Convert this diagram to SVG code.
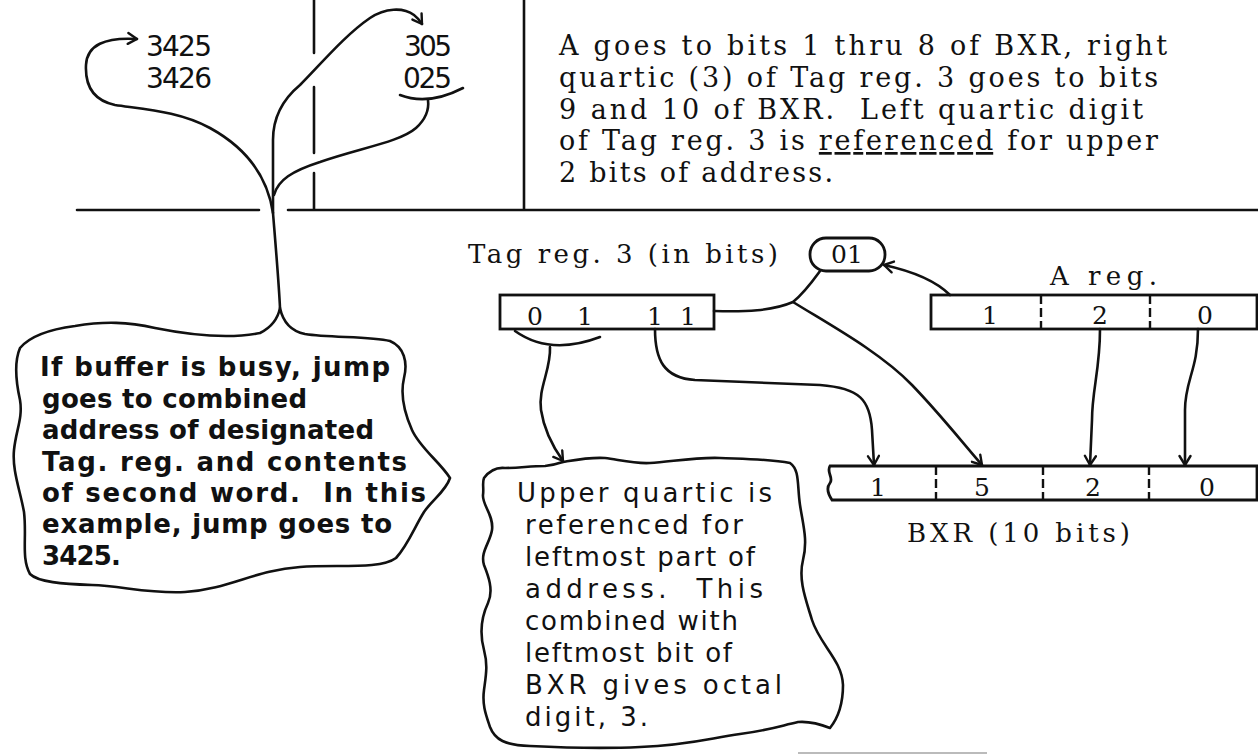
<svg xmlns="http://www.w3.org/2000/svg" width="1258" height="754" viewBox="0 0 1258 754">
<style>
.ln{fill:none;stroke:#111;stroke-width:2.6;stroke-linecap:round;stroke-linejoin:round}
.bx{fill:#fff;stroke:#111;stroke-width:2.8}
.dv{stroke:#111;stroke-width:2.4;stroke-dasharray:9 4}
.num{font-family:"DejaVu Sans",sans-serif;font-size:28px;fill:#111}
.par{font-family:"DejaVu Serif",serif;font-size:27px;fill:#111;white-space:pre}
.lab{font-family:"DejaVu Serif",serif;font-size:26px;fill:#111}
.dig{font-family:"DejaVu Serif",serif;font-size:25px;fill:#111;text-anchor:middle}
.b1{font-family:"DejaVu Sans",sans-serif;font-weight:bold;font-size:26px;fill:#111;white-space:pre}
.b2{font-family:"DejaVu Sans",sans-serif;font-size:26px;fill:#111;white-space:pre}
</style>
<defs>
<marker id="ar" markerWidth="14" markerHeight="14" refX="11" refY="7" orient="auto" markerUnits="userSpaceOnUse">
<path d="M2,1.5 L11,7 L2,12.5" fill="none" stroke="#111" stroke-width="2.4" stroke-linecap="round" stroke-linejoin="round"/>
</marker>
</defs>
<rect width="1258" height="754" fill="#fff"/>

<g id="frame">
<path class="ln" d="M314,0 V53 M314,87 V153 M314,173 V210 M524,0 V210 M77,210 H259 M288,210 H1258"/>
</g>

<g id="addr-left">
<text class="num" x="146" y="56" textLength="66">3425</text>
<text class="num" x="146" y="88" textLength="66">3426</text>
</g>
<g id="addr-right">
<text class="num" x="404" y="56" textLength="48">305</text>
<text class="num" x="403" y="88" textLength="49">025</text>
</g>

<g id="paragraph">
<text class="par" x="559" y="55" textLength="608">A goes to bits 1 thru 8 of BXR, right</text>
<text class="par" x="559" y="87" textLength="599">quartic (3) of Tag reg. 3 goes to bits</text>
<text class="par" x="559" y="119" textLength="584">9 and 10 of BXR.  Left quartic digit</text>
<text class="par" x="559" y="150" textLength="599">of Tag reg. 3 is <tspan text-decoration="underline">referenced</tspan> for upper</text>
<text class="par" x="559" y="182" textLength="274">2 bits of address.</text>
</g>

<g id="tag-label">
<text class="lab" x="468" y="263" textLength="310">Tag reg. 3 (in bits)</text>
</g>
<g id="oval-01">
<rect class="bx" x="810" y="238" width="75" height="33" rx="16"/>
<text class="dig" x="847" y="263">01</text>
</g>
<g id="tag-reg">
<rect class="bx" x="500" y="295" width="214" height="34"/>
<text class="dig" x="535" y="325">0</text>
<text class="dig" x="585" y="325">1</text>
<text class="dig" x="655" y="325">1</text>
<text class="dig" x="688" y="325">1</text>
</g>
<g id="a-reg">
<text class="lab" x="1050" y="285" textLength="107">A reg.</text>
<rect class="bx" x="931" y="295" width="326" height="34"/>
<line class="dv" x1="1041" y1="295" x2="1041" y2="329"/>
<line class="dv" x1="1150" y1="295" x2="1150" y2="329"/>
<text class="dig" x="990" y="324">1</text>
<text class="dig" x="1100" y="324">2</text>
<text class="dig" x="1205" y="324">0</text>
</g>
<g id="bxr">
<path class="bx" d="M830,466 H1257 V500 H832 C828,494 826,488 830,483 C834,478 826,472 830,466 Z"/>
<line class="dv" x1="936" y1="466" x2="936" y2="500"/>
<line class="dv" x1="1043" y1="466" x2="1043" y2="500"/>
<line class="dv" x1="1149" y1="466" x2="1149" y2="500"/>
<text class="dig" x="878" y="496">1</text>
<text class="dig" x="982" y="496">5</text>
<text class="dig" x="1093" y="496">2</text>
<text class="dig" x="1207" y="496">0</text>
<text class="lab" x="907" y="542" textLength="223">BXR (10 bits)</text>
</g>

<g id="bubble-busy">
<path class="ln" d="M280,308 C283,322 290,331 305,334 C330,338 370,336 390,341 C404,347 408,362 404,378 C400,395 404,412 412,430 C420,448 440,462 450,478 C446,491 432,500 424,512 C414,528 408,545 396,558 C380,570 335,564 300,567 C255,570 230,589 185,592 C150,594 122,586 92,585 C62,584 38,582 30,574 C21,558 27,537 24,512 C20,490 12,470 14,450 C16,430 23,418 20,400 C16,382 14,362 20,348 C30,336 52,329 75,326 C105,321 128,322 155,328 C195,336 230,339 260,333 C272,327 278,318 280,308 Z"/>
<text class="b1" x="40" y="376" textLength="350">If buffer is busy, jump</text>
<text class="b1" x="42" y="408" textLength="265">goes to combined</text>
<text class="b1" x="42" y="439" textLength="332">address of designated</text>
<text class="b1" x="42" y="471" textLength="365">Tag. reg. and contents</text>
<text class="b1" x="42" y="502" textLength="384">of second word.  In this</text>
<text class="b1" x="42" y="533" textLength="350">example, jump goes to</text>
<text class="b1" x="42" y="565" textLength="79">3425.</text>
</g>

<g id="bubble-upper">
<path class="ln" d="M484,478 C490,470 496,467 505,468 C520,468 530,466 545,466 C555,465 560,463 563,462 C575,460 590,457 605,458 C620,460 635,464 650,463 C670,462 695,457 720,458 C745,459 770,459 790,463 C800,470 797,485 800,505 C803,525 808,540 803,560 C798,580 806,600 812,620 C820,645 842,660 843,685 C843,705 838,718 830,728 C820,724 810,721 798,722 C780,726 770,730 740,734 C710,738 690,745 640,747 C600,749 570,748 530,746 C505,745 495,740 490,727 C486,715 482,705 484,690 C486,675 488,665 484,650 C480,635 480,620 488,603 C494,590 488,575 484,565 C480,552 490,543 492,530 C494,515 482,505 483,495 C484,488 482,483 484,478 Z"/>
<text class="b2" x="517" y="502" textLength="255">Upper quartic is</text>
<text class="b2" x="525" y="534" textLength="218">referenced for</text>
<text class="b2" x="525" y="566" textLength="230">leftmost part of</text>
<text class="b2" x="525" y="598" textLength="238">address.  This</text>
<text class="b2" x="525" y="630" textLength="213">combined with</text>
<text class="b2" x="525" y="662" textLength="207">leftmost bit of</text>
<text class="b2" x="525" y="694" textLength="257">BXR gives octal</text>
<text class="b2" x="525" y="726" textLength="123">digit, 3.</text>
</g>

<g id="connectors">
<path class="ln" d="M280,308 C279,285 276,250 273,213 L273,140 C273,118 282,100 300,85 C320,65 345,35 370,18 C385,8 403,7 414,15 C418,18 420,21 422,24" marker-end="url(#ar)"/>
<path class="ln" d="M273,213 C268,180 250,150 210,128 C180,112 150,110 115,105 C92,100 85,85 86,65 C87,45 105,37 137,39" marker-end="url(#ar)"/>
<path class="ln" d="M274,195 C278,180 292,171 320,162 C360,148 400,142 416,128 C427,118 429,108 428,100"/>
<path class="ln" d="M400,95 Q428,106 463,88"/>
<path class="ln" d="M515,331 Q550,356 600,337"/>
<path class="ln" d="M550,347 C551,370 538,388 541,410 C544,430 553,447 563,461" marker-end="url(#ar)"/>
<path class="ln" d="M714,311 C745,312 772,311 793,302 C805,292 812,282 820,271"/>
<path class="ln" d="M793,302 C830,325 880,352 912,385 C940,414 962,442 982,465" marker-end="url(#ar)"/>
<path class="ln" d="M950,295 C936,281 916,272 884,265" marker-end="url(#ar)"/>
<path class="ln" d="M655,329 C655,360 664,378 695,380 L820,385 C860,388 870,400 872,430 L874,465" marker-end="url(#ar)"/>
<path class="ln" d="M1100,329 C1100,370 1092,390 1092,420 L1090,465" marker-end="url(#ar)"/>
<path class="ln" d="M1198,329 C1198,370 1185,380 1185,410 L1185,465" marker-end="url(#ar)"/>
</g>
<path d="M798,753 H987" stroke="#bbb" stroke-width="2" fill="none"/>
</svg>
